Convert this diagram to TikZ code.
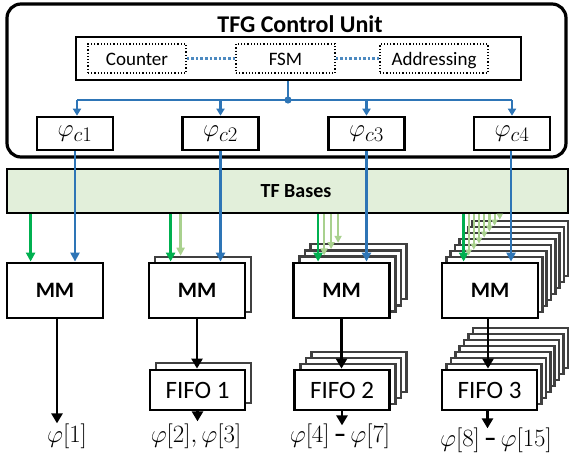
\documentclass[tikz,border=0pt]{standalone}
\usepackage[no-math]{fontspec}
\setmainfont{Carlito}
\usetikzlibrary{arrows.meta,calc}
\definecolor{cublue}{HTML}{2E75B6}
\definecolor{tfgreen}{HTML}{00B050}
\definecolor{tflight}{HTML}{A9D18E}
\definecolor{tfband}{HTML}{E2EFDA}
\definecolor{stackgray}{HTML}{404040}
\begin{document}
\begin{tikzpicture}[x=1pt,y=-1pt,
  unitbox/.style={draw, line width=3.2pt, rounded corners=14pt, inner sep=0pt},
  ctrlbox/.style={draw, line width=2.6pt, inner sep=0pt},
  subbox/.style={draw, dotted, line width=1.2pt, inner sep=0pt, minimum height=29pt,
    text height=15pt, text depth=0pt, font=\fontsize{19}{22}\selectfont},
  phibox/.style={draw, line width=2.6pt, fill=white, inner sep=0pt,
    minimum width=76pt, minimum height=33pt, font=\fontsize{28}{32}\selectfont},
  mmbox/.style={draw, line width=2.8pt, fill=white, inner sep=0pt,
    minimum width=96pt, minimum height=55pt, font=\bfseries\fontsize{22}{26}\selectfont},
  mmlayer/.style={draw=stackgray, line width=2.6pt, fill=white, inner sep=0pt,
    minimum width=96pt, minimum height=55pt},
  fifobox/.style={draw, line width=2.8pt, fill=white, inner sep=0pt,
    minimum width=95pt, minimum height=40pt, font=\fontsize{25}{30}\selectfont},
  fifolayer/.style={draw=stackgray, line width=2.6pt, fill=white, inner sep=0pt,
    minimum width=95pt, minimum height=40pt},
  band/.style={draw, line width=2.6pt, fill=tfband, inner sep=0pt,
    minimum width=561pt, minimum height=44pt},
  bluelink/.style={cublue, line width=2.5pt},
  bluearrow/.style={bluelink, -{Triangle[width=8pt,length=7pt]}},
  dotlink/.style={cublue!85!white, line width=2.8pt, dash pattern=on 2.6pt off 2pt},
  gdark/.style={tfgreen, line width=2.6pt, -{Triangle[width=9pt,length=9pt]}},
  glight/.style={tflight, line width=2.6pt, -{Triangle[width=8pt,length=8pt]}},
  outarrow/.style={black, line width=2.6pt, -{Triangle[width=11pt,length=10pt]}},
  lbl/.style={font=\fontsize{25}{29}\selectfont, inner sep=0pt}
]
\useasboundingbox (0,0) rectangle (570,454);

% ---------- control unit ----------
\node[unitbox, minimum width=559pt, minimum height=153pt] (cu) at (286.5,80.5) {};
\node[anchor=base, inner sep=0pt, font=\bfseries\fontsize{24}{28}\selectfont] (title) at (300,33) {TFG Control Unit};
\node[ctrlbox, minimum width=445pt, minimum height=43pt] (ctrl) at (298.5,58.5) {};
\node[subbox, minimum width=98pt] (counter) at (137,58.5) {Counter};
\node[subbox, minimum width=99pt] (fsm) at (285.5,58.5) {FSM};
\node[subbox, minimum width=108pt] (addr) at (434,58.5) {Addressing};
\draw[dotlink] (counter.east) -- (fsm.west);
\draw[dotlink] (fsm.east) -- (addr.west);

\node[phibox] (phi1) at (75,133.5) {$\varphi_{c1}$};
\node[phibox] (phi2) at (220.5,133.5) {$\varphi_{c2}$};
\node[phibox] (phi3) at (366.5,133.5) {$\varphi_{c3}$};
\node[phibox] (phi4) at (512,133.5) {$\varphi_{c4}$};

\coordinate (jn) at (288,100);
\draw[bluelink] (jn |- ctrl.south) -- (jn);
\draw[bluelink] ([xshift=2pt]jn -| phi1.north) -- (jn -| phi4.north);
\fill[cublue] (jn) circle (3.6pt);
\draw[bluearrow] ([xshift=2pt]jn -| phi1.north) -- ([xshift=2pt]phi1.north);
\foreach \p in {2,3,4} \draw[bluearrow] (jn -| phi\p.north) -- (phi\p.north);

% ---------- twiddle-factor bases ----------
\node[band] (tfb) at (287.5,191) {};
\node[inner sep=0pt, font=\bfseries\fontsize{20}{24}\selectfont] (tfbtext) at (296,191) {TF Bases};

% ---------- MM stacks ----------
\node[mmlayer] (mm2s1) at ($(197,290.5)+(6,-6)$) {};
\foreach \k in {3,2,1}
  \node[mmlayer] (mm3s\k) at ($(341.5,290.5)+(5.7*\k,-6.3*\k)$) {};
\foreach \k in {7,6,...,1}
  \node[mmlayer] (mm4s\k) at ($(490,290.5)+(4.3*\k,-6*\k)$) {};

\node[mmbox] (mm1) at (55,290.5) {MM};
\node[mmbox] (mm2) at (197,290.5) {MM};
\node[mmbox] (mm3) at (341.5,290.5) {MM};
\node[mmbox] (mm4) at (490,290.5) {MM};

% green base feeds
\draw[gdark] ([xshift=25pt]mm1.north west |- tfb.south) -- ([xshift=25pt]mm1.north west);
\draw[gdark] ([xshift=23pt]mm2.north west |- tfb.south) -- ([xshift=23pt]mm2.north west);
\draw[gdark] ([xshift=26pt]mm3.north west |- tfb.south) -- ([xshift=26pt]mm3.north west);
\draw[gdark] ([xshift=23pt]mm4.north west |- tfb.south) -- ([xshift=23pt]mm4.north west);

\draw[glight] ([xshift=33pt]mm2.north west |- tfb.south) -- ([xshift=33pt]mm2.north west |- mm2s1.north);
\foreach \k in {1,2,3}
  \draw[glight, -{Triangle[width=7pt,length=7pt]}] ([xshift={32pt+7pt*\k-7pt}]mm3.north west |- tfb.south)
    -- ([xshift={32pt+7pt*\k-7pt}]mm3.north west |- mm3s\k.north);
\foreach \k in {1,...,7}
  \draw[glight, line width=2.2pt, -{Triangle[width=6pt,length=6pt]}] ([xshift={28pt+5.2pt*\k-5.2pt}]mm4.north west |- tfb.south)
    -- ([xshift={28pt+5.2pt*\k-5.2pt}]mm4.north west |- mm4s\k.north);

% phase control lines
\draw[bluelink, -{Triangle[width=9pt,length=9pt]}] (phi1.south) -- (phi1.south |- mm1.north);
\draw[bluelink, -{Triangle[width=9pt,length=9pt]}] (phi2.south) -- (phi2.south |- mm2.north);
\draw[bluelink, -{Triangle[width=9pt,length=9pt]}] (phi3.south) -- (phi3.south |- mm3.north);
\draw[bluelink, -{Triangle[width=9pt,length=9pt]}] ([xshift=-1pt]phi4.south) -- ([xshift=-1pt]phi4.south |- mm4.north);

% ---------- FIFO stacks ----------
\node[fifolayer] (f1s1) at ($(197.5,390)+(6,-7)$) {};
\foreach \k in {3,2,1}
  \node[fifolayer] (f2s\k) at ($(342,390)+(5.7*\k,-6*\k)$) {};
\foreach \k in {7,6,...,1}
  \node[fifolayer] (f3s\k) at ($(489.5,390)+(4.4*\k,-6*\k)$) {};

\node[fifobox] (fifo1) at (197.5,390) {FIFO 1};
\node[fifobox] (fifo2) at (342,390) {FIFO 2};
\node[fifobox] (fifo3) at (489.5,390) {FIFO 3};

\draw[outarrow] (mm2.south) -- (mm2.south |- fifo1.north);
\draw[outarrow] (mm3.south) -- (mm3.south |- fifo2.north);
\draw[outarrow] ([xshift=-2pt]mm4.south) -- ([xshift=-2pt]mm4.south |- fifo3.north);

% ---------- outputs ----------
\node[lbl] (out1) at (67,436) {$\varphi[1]$};
\node[lbl] (out2) at (196,436) {$\varphi[2],\varphi[3]$};
\node[lbl] (out3) at (340,436) {$\varphi[4]$\,\textbf{–}\,$\varphi[7]$};
\node[lbl] (out4) at (496,440) {$\varphi[8]$\,\textbf{–}\,$\varphi[15]$};

\draw[outarrow] ([xshift=2pt]mm1.south) -- ([xshift=2pt]mm1.south |- out1.north);
\draw[outarrow] (fifo1.south) -- ([yshift=2pt]fifo1.south |- out2.north);
\draw[outarrow] (fifo2.south) -- ([yshift=-2pt]fifo2.south |- out3.north);
\draw[outarrow] ([xshift=-2pt]fifo3.south) -- ([xshift=-2pt,yshift=-1pt]fifo3.south |- out4.north);
\end{tikzpicture}
\end{document}
